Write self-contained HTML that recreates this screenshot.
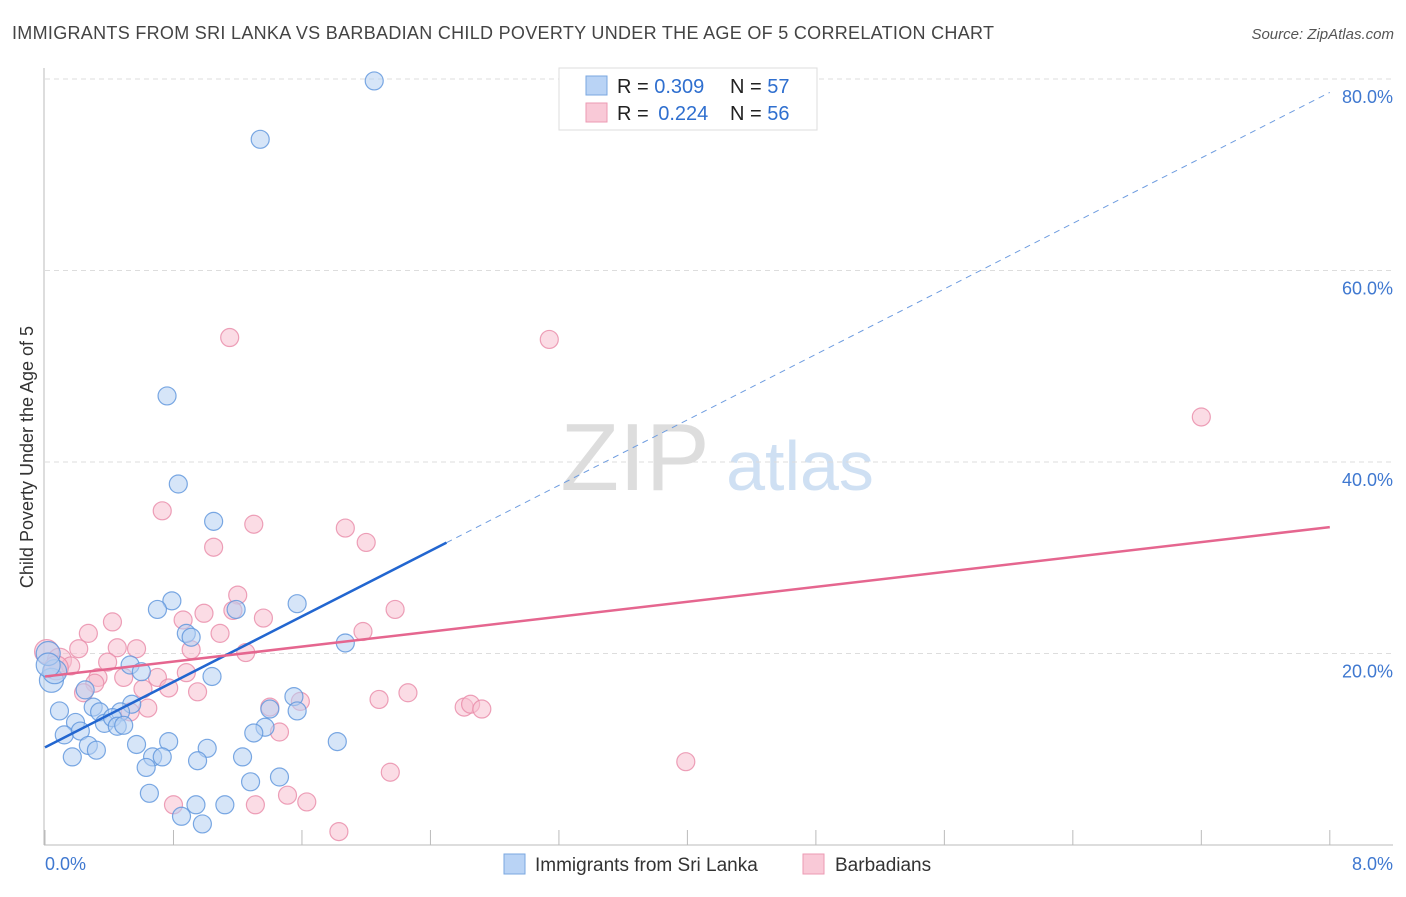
<!DOCTYPE html>
<html><head><meta charset="utf-8"><style>
body{margin:0;background:#fff;font-family:"Liberation Sans",sans-serif;}
svg text{font-family:"Liberation Sans",sans-serif;}
</style></head><body>
<svg id="chart" width="1406" height="892" xmlns="http://www.w3.org/2000/svg">
<text x="12" y="39" font-size="18" fill="#444" textLength="982" lengthAdjust="spacing">IMMIGRANTS FROM SRI LANKA VS BARBADIAN CHILD POVERTY UNDER THE AGE OF 5 CORRELATION CHART</text>
<text x="1394" y="39" font-size="15" fill="#555" text-anchor="end" font-style="italic">Source: ZipAtlas.com</text>
<text transform="translate(33,457) rotate(-90)" font-size="18" fill="#333" text-anchor="middle">Child Poverty Under the Age of 5</text>
<g>
<text x="635" y="490" font-size="96" fill="#ddd" text-anchor="middle" font-family="Liberation Serif, serif">ZIP</text>
<text x="800" y="490" font-size="70" fill="#cfe0f3" text-anchor="middle">atlas</text>
</g>
<g id="grid"></g>
<g id="axes"></g>
<g id="points"></g>
<g id="lines"></g>
<g>
<rect x="559" y="68" width="258" height="62" fill="#fff" stroke="#ddd"/>
<rect x="586" y="76" width="21" height="19" fill="#b9d3f5" stroke="#7aa7e0"/>
<rect x="586" y="103" width="21" height="19" fill="#f9c9d7" stroke="#ec9ab3"/>
<text x="617" y="93" font-size="20" fill="#222">R = <tspan fill="#2f6fcf">0.309</tspan></text>
<text x="730" y="93" font-size="20" fill="#222">N = <tspan fill="#2f6fcf">57</tspan></text>
<text x="617" y="120" font-size="20" fill="#222">R = <tspan fill="#2f6fcf" dx="4">0.224</tspan></text>
<text x="730" y="120" font-size="20" fill="#222">N = <tspan fill="#2f6fcf">56</tspan></text>
</g>
<g>
<rect x="504" y="854" width="21" height="20" fill="#b9d3f5" stroke="#7aa7e0"/>
<text x="535" y="871" font-size="19" fill="#333">Immigrants from Sri Lanka</text>
<rect x="803" y="854" width="21" height="20" fill="#f9c9d7" stroke="#ec9ab3"/>
<text x="835" y="871" font-size="19" fill="#333">Barbadians</text>
</g>
</svg>
<script>
const blueX=[2.05,1.34,0.76,0.83,1.05,0.79,0.70,1.19,1.57,0.88,0.91,1.87,0.53,0.60,1.04,0.04,0.06,0.25,0.09,0.30,0.34,0.54,0.47,0.19,0.37,0.42,0.45,0.49,0.12,0.22,0.27,0.32,0.17,0.57,0.77,1.01,0.67,0.73,0.63,0.95,1.23,1.28,1.46,0.65,0.94,1.12,0.85,0.98,1.40,1.55,1.57,1.37,1.30,1.82,0.02,0.02];
const blueY=[79.8,73.7,46.9,37.7,33.8,25.5,24.6,24.6,25.2,22.1,21.7,21.1,18.8,18.1,17.6,17.2,18.1,16.2,14.0,14.4,13.9,14.7,13.9,12.8,12.7,13.3,12.4,12.5,11.5,11.9,10.4,9.9,9.2,10.5,10.8,10.1,9.2,9.2,8.1,8.8,9.2,6.6,7.1,5.4,4.2,4.2,3.0,2.2,14.2,15.5,14.0,12.3,11.7,10.8,20.0,18.8];
const pinkX=[3.14,1.15,7.20,0.73,1.30,1.87,2.00,1.05,1.20,1.17,0.99,2.18,0.86,1.36,0.42,0.27,1.09,1.98,0.21,0.45,0.57,0.91,1.25,0.01,0.09,0.16,0.39,0.33,0.49,0.70,0.88,0.31,0.61,0.77,0.95,0.24,2.26,2.08,1.59,1.40,0.53,0.64,2.61,2.65,2.72,1.46,2.15,3.99,0.80,1.31,1.51,1.63,1.83,0.07];
const pinkY=[52.8,53.0,44.7,34.9,33.5,33.1,31.6,31.1,26.1,24.5,24.2,24.6,23.5,23.7,23.3,22.1,22.1,22.3,20.5,20.6,20.5,20.4,20.1,20.2,19.3,18.7,19.1,17.5,17.5,17.5,18.0,16.9,16.3,16.4,16.0,15.9,15.9,15.2,15.0,14.4,13.9,14.3,14.4,14.7,14.2,11.8,7.6,8.7,4.2,4.2,5.2,4.5,1.4,18.5];
const blueLine=[10.2,78.6];
const blueSolidEnd=2.5;
const pinkLine=[17.6,33.2];
const yTicks=[20,40,60,80];
const yTickLabels=["20.0%","40.0%","60.0%","80.0%"];
const xTicks=[0,0.8,1.6,2.4,3.2,4.0,4.8,5.6,6.4,7.2,8.0];
const NS="http://www.w3.org/2000/svg";
const sx=v=>45+v*160.6, sy=v=>845-v*9.575;
function mk(tag,attrs,parent){const e=document.createElementNS(NS,tag);for(const k in attrs)e.setAttribute(k,attrs[k]);parent.appendChild(e);return e;}
const grid=document.getElementById('grid'),axes=document.getElementById('axes'),pts=document.getElementById('points'),lines=document.getElementById('lines');
yTicks.forEach((t,i)=>{
 const l=mk('line',{x1:45,x2:1393,y1:sy(t),y2:sy(t),stroke:'#ddd','stroke-dasharray':'5,4'},grid);
 
 
 const tx=mk('text',{x:1393,y:sy(t)+24,'font-size':18,fill:'#3f78d0','text-anchor':'end'},axes);
 tx.textContent=yTickLabels[i];
 
 
});
let a=mk('line',{x1:44,x2:44,y1:68,y2:845,stroke:'#bbb'},axes);


a=mk('line',{x1:44,x2:1393,y1:845,y2:845,stroke:'#bbb'},axes);


xTicks.forEach(t=>{
 const l=mk('line',{x1:sx(t),x2:sx(t),y1:830,y2:845,stroke:'#bbb'},axes);
 
 
});
let xl=mk('text',{x:45,y:870,'font-size':18,fill:'#3f78d0'},axes);xl.textContent='0.0%';


xl=mk('text',{x:1393,y:870,'font-size':18,fill:'#3f78d0','text-anchor':'end'},axes);xl.textContent='8.0%';


function dots(X,Y,fill,stroke,name){X.forEach((x,i)=>{
 const r=(x<0.1&&Y[i]>16&&Y[i]<21)?12:9;
 const c=mk('circle',{cx:sx(x),cy:sy(Y[i]),r:r,fill:fill,'fill-opacity':0.55,stroke:stroke,'stroke-width':1.2,'stroke-opacity':0.8},pts);
 
 
});}
dots(pinkX,pinkY,'#f7bfd0','#e88aa8','point-barbadians');
dots(blueX,blueY,'#b5d0f3','#5b93dc','point-sri-lanka');
const bAt=x=>blueLine[0]+(blueLine[1]-blueLine[0])*x/8;
let ln=mk('line',{x1:sx(0),y1:sy(bAt(0)),x2:sx(blueSolidEnd),y2:sy(bAt(blueSolidEnd)),stroke:'#2266d0','stroke-width':2.5},lines);


ln=mk('line',{x1:sx(blueSolidEnd),y1:sy(bAt(blueSolidEnd)),x2:sx(8),y2:sy(bAt(8)),stroke:'#6f9de0','stroke-width':1,'stroke-dasharray':'6,5'},lines);


ln=mk('line',{x1:sx(0),y1:sy(pinkLine[0]),x2:sx(8),y2:sy(pinkLine[1]),stroke:'#e5668f','stroke-width':2.5},lines);


</script>
</body></html>
